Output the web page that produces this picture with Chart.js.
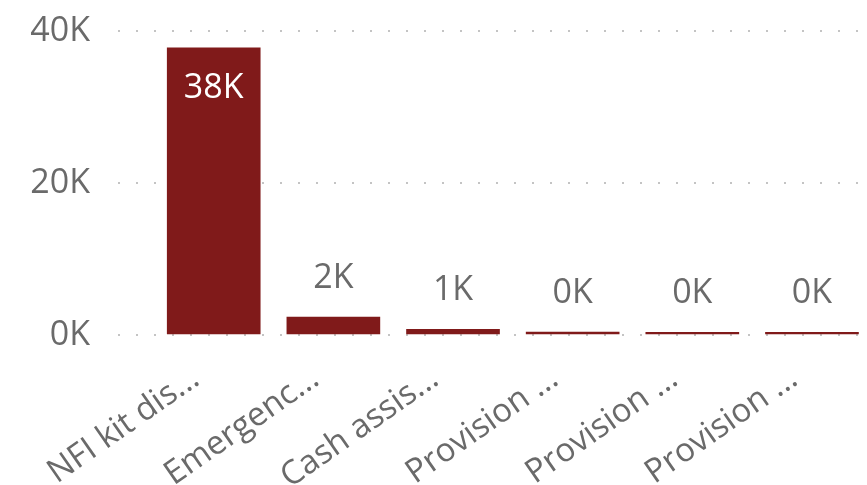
<!DOCTYPE html>
<html>
<head>
<meta charset="utf-8">
<script src="https://cdn.jsdelivr.net/npm/chart.js@4.4.1/dist/chart.umd.min.js"></script>
<style>
  html, body { margin: 0; padding: 0; background: #ffffff; }
  #wrap { width: 867px; height: 485px; position: relative; }
</style>
</head>
<body>
<div id="wrap"><canvas id="c"></canvas></div>
<script>
const categories = ["NFI kit dis...", "Emergenc...", "Cash assis...", "Provision ...", "Provision ...", "Provision ..."];
const values = [37800, 2350, 750, 380, 360, 350];
const yTicks = [0, 20000, 40000];

const FONT = "'Open Sans', 'Noto Sans', sans-serif";
const BAR = '#801a1a';
const TEXT = '#6a6a6a';

function fmtK(v) { return Math.round(v / 1000) + 'K'; }

function zeroPad(scale) {
  scale.paddingLeft = 0;
  scale.paddingRight = 0;
  scale.paddingTop = 0;
  scale.paddingBottom = 0;
}

const dataLabels = {
  id: 'dataLabels',
  afterDatasetsDraw(chart) {
    const ctx = chart.ctx;
    const meta = chart.getDatasetMeta(0);
    ctx.save();
    ctx.font = '34px ' + FONT;
    ctx.textAlign = 'center';
    ctx.textBaseline = 'middle';
    meta.data.forEach((bar, i) => {
      const v = values[i];
      const h = bar.base - bar.y;
      if (h > 100) {
        ctx.fillStyle = '#ffffff';
        ctx.fillText(fmtK(v), bar.x, bar.y + 41);
      } else {
        ctx.fillStyle = TEXT;
        ctx.fillText(fmtK(v), bar.x, bar.y - 39);
      }
    });
    ctx.restore();
  }
};

new Chart(document.getElementById('c'), {
  type: 'bar',
  data: {
    datasets: [{
      data: values.map((v, i) => ({ x: i, y: v })),
      backgroundColor: BAR,
      borderWidth: 0,
      barThickness: 93
    }]
  },
  options: {
    responsive: true,
    maintainAspectRatio: false,
    animation: false,
    layout: { padding: { top: 31, right: 0, left: 0, bottom: 0 } },
    plugins: { legend: { display: false }, tooltip: { enabled: false } },
    scales: {
      x: {
        type: 'linear',
        offset: false,
        min: -0.8,
        max: 5.46,
        grid: { display: false, drawTicks: false, offset: false },
        border: { display: false },
        afterFit(scale) { scale.height = 150; zeroPad(scale); },
        afterBuildTicks(scale) {
          scale.ticks = categories.map((c, i) => ({ value: i }));
        },
        ticks: {
          autoSkip: false,
          maxRotation: 35,
          minRotation: 35,
          padding: 24,
          labelOffset: -18,
          color: TEXT,
          font: { family: FONT, size: 33 },
          callback: (v) => categories[v]
        }
      },
      y: {
        min: 0,
        max: 40000,
        afterFit(scale) { scale.width = 118; zeroPad(scale); },
        afterBuildTicks(scale) {
          scale.ticks = yTicks.map(v => ({ value: v }));
        },
        grid: {
          color: '#c4c4c4',
          lineWidth: 2,
          drawTicks: false
        },
        border: { display: false, dash: [2, 16] },
        ticks: {
          padding: 28,
          color: TEXT,
          font: { family: FONT, size: 34 },
          callback: (v) => fmtK(v)
        }
      }
    }
  },
  plugins: [dataLabels]
});
</script>
</body>
</html>
